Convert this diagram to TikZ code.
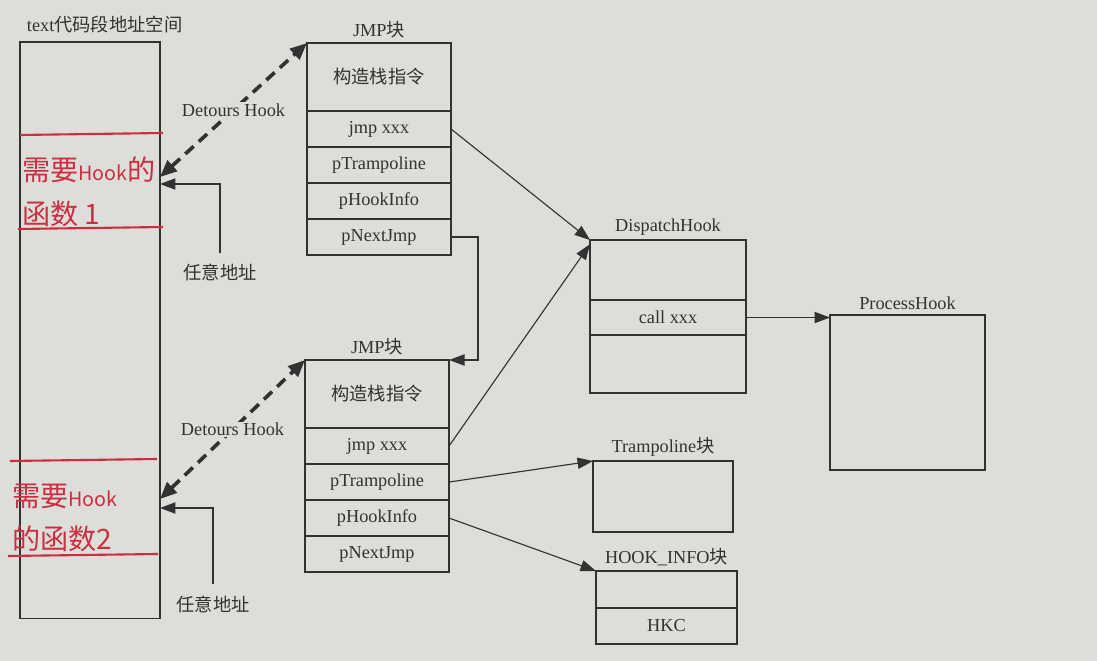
\documentclass[tikz,border=0pt]{standalone}
\usepackage{fontspec}
\setmainfont{Liberation Serif}
\newfontfamily\cjk{Noto Sans CJK SC}
\usepackage{xcolor}
\usepackage{tikz}
\usetikzlibrary{positioning,arrows.meta}

\definecolor{paper}{RGB}{221,222,217}
\definecolor{ink}{RGB}{50,50,50}
\definecolor{pen}{RGB}{205,45,65}

\tikzset{
  cell/.style={draw=ink, line width=0.8pt, inner sep=0pt, outer sep=0pt, minimum width=3.6cm, minimum height=0.9cm},
  headcell/.style={cell, minimum height=1.7cm},
  arr/.style={-{Triangle[length=11pt,width=8pt]}, draw=ink, line width=0.8pt},
  hookarr/.style={{Triangle[length=12pt,width=10pt]}-{Triangle[length=12pt,width=10pt]}, draw=ink, line width=2.6pt, dash pattern=on 8pt off 5pt},
  handtext/.style={text=pen, font=\cjk\fontsize{20pt}{31pt}\selectfont, align=left, inner sep=0pt},
  penline/.style={draw=pen, line width=1.5pt}
}

\begin{document}
\begin{tikzpicture}[x=0.025cm, y=-0.025cm, every node/.style={font=\fontsize{13pt}{15pt}\selectfont, text=ink}]
            \fill[paper] (0,0) rectangle (1097,661);
            % text segment address space
            \node[draw=ink, line width=0.8pt, inner sep=0pt, outer sep=0pt, anchor=north west, minimum width=3.5cm, minimum height=14.4cm] (textseg) at (20,42) {};
            \node[anchor=west] (seglbl) at (22,25) {text\cjk 代码段地址空间};
            % hand-written function marks
            \draw[penline] (20,135) -- (163,133);
            \draw[penline] (18,229) -- (163,227);
            \node[handtext, anchor=west] (func1) at (22,192) {需要{\fontsize{14pt}{14pt}\selectfont Hook}的\\函数 1};
            \draw[penline] (10,461) -- (157,459);
            \draw[penline] (8,556) -- (158,554);
            \node[handtext, anchor=west] (func2) at (12,518) {需要{\fontsize{14pt}{14pt}\selectfont Hook}\\的函数2};
            \coordinate (hook1) at (160,177);
            \coordinate (any1) at (160,184);
            \coordinate (hook2) at (160,499);
            \coordinate (any2) at (160,508);
            % JMP blocks
            \node[headcell, anchor=north west, label={above:JMP\cjk 块}] (head1) at (307,43) {\cjk 构造栈指令};
            \node[cell, below=0pt of head1] (jmp1) {jmp xxx};
            \node[cell, below=0pt of jmp1] (tramp1) {pTrampoline};
            \node[cell, below=0pt of tramp1] (info1) {pHookInfo};
            \node[cell, below=0pt of info1] (next1) {pNextJmp};
            \node[headcell, anchor=north west, label={above:JMP\cjk 块}] (head2) at (305,360) {\cjk 构造栈指令};
            \node[cell, below=0pt of head2] (jmp2) {jmp xxx};
            \node[cell, below=0pt of jmp2] (tramp2) {pTrampoline};
            \node[cell, below=0pt of tramp2] (info2) {pHookInfo};
            \node[cell, below=0pt of info2] (next2) {pNextJmp};
            % DispatchHook and ProcessHook
            \node[cell, minimum width=3.9cm, minimum height=1.5cm, anchor=north west, label={above:DispatchHook}] (disp) at (590,240) {};
            \node[cell, minimum width=3.9cm, minimum height=0.875cm, below=0pt of disp] (call) {call xxx};
            \node[cell, minimum width=3.9cm, minimum height=1.45cm, below=0pt of call] (dispend) {};
            \node[cell, minimum width=3.875cm, minimum height=3.875cm, anchor=north west, label={above:ProcessHook}] (proc) at (830,315) {};
            % Trampoline and HOOK_INFO
            \node[cell, minimum width=3.5cm, minimum height=1.775cm, anchor=north west, label={above:Trampoline\cjk 块}] (trampblk) at (593,461) {};
            \node[cell, minimum width=3.525cm, minimum height=0.925cm, anchor=north west, label={above:HOOK\_INFO\cjk 块}] (infoblk) at (596,571) {};
            \node[cell, minimum width=3.525cm, below=0pt of infoblk] (hkc) {HKC};
            % arbitrary address labels
            \node (addr1) at (220,272) {\cjk 任意地址};
            \node (addr2) at (213,604) {\cjk 任意地址};
            % connectors
            \draw[hookarr] (hook1) -- node[fill=paper, inner sep=1pt] {Detours Hook} (head1.north west);
            \draw[hookarr] (hook2) -- node[fill=paper, inner sep=1pt] {Detours Hook} (head2.north west);
            \draw[arr, shorten <=4pt] (addr1.north) |- (any1);
            \draw[arr, shorten <=5pt] (addr2.north) |- (any2);
            \draw[arr] (jmp1.east) -- (disp.north west);
            \draw[arr] (jmp2.east) -- ([yshift=-3pt]disp.north west);
            \draw[arr] (next1.east) -- ++(27,0) |- (head2.north east);
            \draw[arr] (call.east) -- (call.east -| proc.west);
            \draw[arr] (tramp2.east) -- (trampblk.north west);
            \draw[arr] (info2.east) -- (infoblk.north west);
        \end{tikzpicture}
\end{document}
